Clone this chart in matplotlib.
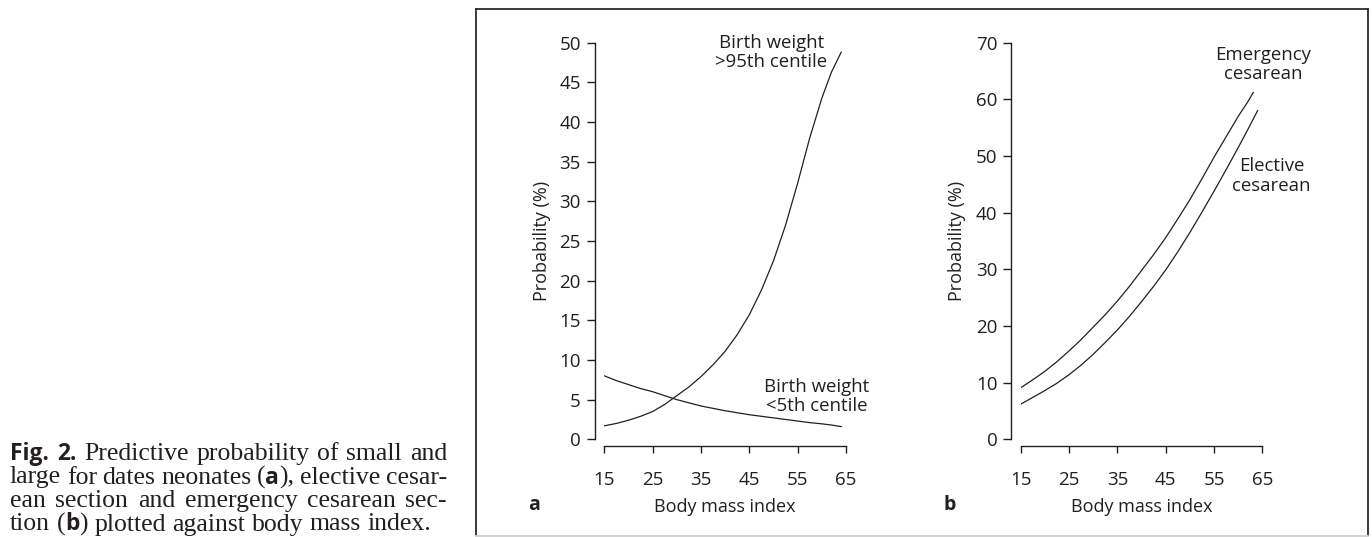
import matplotlib
matplotlib.use("Agg")
import matplotlib.pyplot as plt
from matplotlib.lines import Line2D

plt.rcParams['font.family'] = ['Open Sans', 'DejaVu Sans']

INK = '#231f20'

# panel a: small / large for dates neonates
bmi_large = [15, 17.5, 20, 22.5, 25, 27.5, 30, 32.5, 35, 37.5, 40, 42.5, 45,
             47.5, 50, 52.5, 55, 57.5, 60, 62, 64]
prob_large = [1.7, 2.0, 2.4, 2.9, 3.5, 4.4, 5.5, 6.6, 7.9, 9.4, 11.1, 13.2, 15.7,
              18.8, 22.5, 27.0, 32.3, 38.0, 43.0, 46.3, 48.8]
bmi_small = [15, 17.5, 20, 22.5, 25, 27.5, 30, 32.5, 35, 37.5, 40, 42.5, 45,
             47.5, 50, 52.5, 55, 57.5, 60, 62, 64]
prob_small = [8.0, 7.4, 6.9, 6.4, 6.0, 5.5, 5.0, 4.6, 4.2, 3.9, 3.6, 3.35, 3.1,
              2.9, 2.7, 2.5, 2.3, 2.1, 1.95, 1.8, 1.6]

# panel b: elective / emergency cesarean
bmi_emerg = [15, 17.5, 20, 22.5, 25, 27.5, 30, 32.5, 35, 37.5, 40, 42.5, 45,
             47.5, 50, 52.5, 55, 57.5, 60, 62, 63.1]
prob_emerg = [9.1, 10.5, 12.0, 13.7, 15.6, 17.6, 19.8, 22.0, 24.4, 27.0, 29.8,
              32.6, 35.6, 38.9, 42.3, 46.0, 49.8, 53.4, 57.0, 59.6, 61.2]
bmi_elect = [15, 17.5, 20, 22.5, 25, 27.5, 30, 32.5, 35, 37.5, 40, 42.5, 45,
             47.5, 50, 52.5, 55, 57.5, 60, 62, 64]
prob_elect = [6.2, 7.4, 8.6, 9.9, 11.4, 13.1, 15.0, 17.1, 19.3, 21.7, 24.3,
              27.0, 29.9, 33.1, 36.5, 40.1, 43.8, 47.6, 51.5, 54.7, 58.0]

xticks = [15, 25, 35, 45, 55, 65]

caption = [
    "**Fig. 2.** Predictive probability of small and",
    "large for dates neonates (**a**), elective cesar-",
    "ean section and emergency cesarean sec-",
    "tion (**b**) plotted against body mass index.",
]

W, H = 1372, 537
fig = plt.figure(figsize=(W / 100, H / 100), dpi=100)


def fx(px):
    return px / W


def fy(py):
    return 1 - py / H


def style_axes(ax, ymax, ystep):
    ax.set_xlim(15, 65)
    ax.set_ylim(0, ymax)
    ax.patch.set_visible(False)
    for s in ('top', 'right'):
        ax.spines[s].set_visible(False)
    ax.spines['left'].set_position(('outward', 6.7))
    ax.spines['bottom'].set_position(('outward', 4.8))
    ax.spines['left'].set_bounds(0, ymax)
    ax.spines['bottom'].set_bounds(15, 65)
    for s in ('left', 'bottom'):
        ax.spines[s].set_color(INK)
        ax.spines[s].set_linewidth(1.0)
    ax.set_xticks(xticks)
    ax.set_yticks(range(0, ymax + 1, ystep))
    ax.tick_params(axis='y', length=5.8, width=1.0, pad=4.3, labelsize=13.5,
                   color=INK, labelcolor=INK)
    ax.tick_params(axis='x', length=5.2, width=1.0, pad=12.5, labelsize=13.5,
                   color=INK, labelcolor=INK)
    ax.set_xlabel("Body mass index", fontsize=13, color=INK, labelpad=7)
    ax.set_ylabel("Probability (%)", fontsize=13, color=INK)


# outer frame
frame_kw = dict(transform=fig.transFigure, color='#2b2b2b', lw=1.3)
fig.add_artist(Line2D([fx(475.5), fx(1368)], [fy(9.3), fy(9.3)], **frame_kw))
fig.add_artist(Line2D([fx(475.5), fx(475.5)], [fy(9.3), fy(535)], **frame_kw))
fig.add_artist(Line2D([fx(1368), fx(1368)], [fy(9.3), fy(535)], **frame_kw))
fig.add_artist(Line2D([fx(475.5), fx(1368)], [fy(535.5), fy(535.5)],
                      transform=fig.transFigure, color='#cfcfcf', lw=1.3))

ax_a = fig.add_axes([fx(604.3), fy(439.3), 241.7 / W, 396.6 / H])
ax_b = fig.add_axes([fx(1020.7), fy(439.3), 241.7 / W, 396.6 / H])

style_axes(ax_a, 50, 5)
style_axes(ax_b, 70, 10)
ax_a.yaxis.set_label_coords((551 - 604.3) / 241.7, 0.5)
ax_b.yaxis.set_label_coords((966 - 1020.7) / 241.7, 0.5)

ax_a.plot(bmi_large, prob_large, color=INK, lw=0.9)
ax_a.plot(bmi_small, prob_small, color=INK, lw=0.9)
ax_b.plot(bmi_emerg, prob_emerg, color=INK, lw=0.9)
ax_b.plot(bmi_elect, prob_elect, color=INK, lw=0.9)

lbl = dict(ha='center', va='center', fontsize=13.4, color=INK, linespacing=1.1)
ax_a.text(49.6, 48.8, "Birth weight\n>95th centile", **lbl)
ax_a.text(59.0, 5.4, "Birth weight\n<5th centile", **lbl)
ax_b.text(65.1, 66.1, "Emergency\ncesarean", **lbl)
ax_b.text(66.9, 46.5, "Elective\ncesarean", **lbl)

fig.text(fx(534), fy(505), "a", ha='center', va='center', fontsize=14,
         fontweight='bold', color=INK)
fig.text(fx(950), fy(505), "b", ha='center', va='center', fontsize=14,
         fontweight='bold', color=INK)


# caption, justified like the printed page
def parse(line):
    words = [[]]
    for i, part in enumerate(line.split("**")):
        bold = i % 2 == 1
        for j, piece in enumerate(part.split(" ")):
            if j > 0:
                words.append([])
            if piece:
                words[-1].append((piece, bold))
    return [w for w in words if w]


renderer = fig.canvas.get_renderer()
cap_left, cap_right = 10, 447
baselines = [460, 483.5, 507, 530.5]
for n, line in enumerate(caption):
    words = parse(line)
    placed = []
    for word in words:
        runs = []
        for piece, bold in word:
            if bold:
                t = fig.text(0, fy(baselines[n]), piece, fontsize=16.5,
                             fontweight='bold', color=INK, va='baseline',
                             family=['Open Sans', 'DejaVu Sans'])
            else:
                t = fig.text(0, fy(baselines[n]), piece, fontsize=18.5,
                             color=INK, va='baseline',
                             family=['Liberation Serif', 'DejaVu Serif'])
            runs.append((t, t.get_window_extent(renderer).width))
        placed.append(runs)
    widths = [sum(w for _, w in runs) for runs in placed]
    if n < len(caption) - 1:
        gap = (cap_right - cap_left - sum(widths)) / (len(placed) - 1)
    else:
        gap = 6.5
    x = cap_left
    for runs in placed:
        for t, w in runs:
            t.set_x(fx(x))
            x += w
        x += gap

fig.savefig("out.png", dpi=100)
